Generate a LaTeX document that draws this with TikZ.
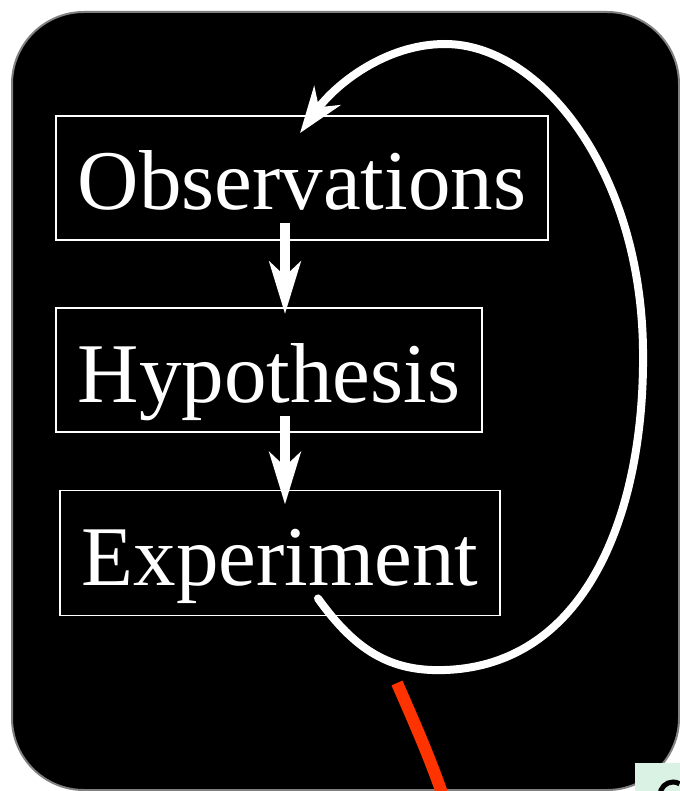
\documentclass[tikz,border=0pt]{standalone}
\usepackage{fontspec}
\setmainfont{Liberation Serif}
\usetikzlibrary{arrows.meta,calc}
\definecolor{redline}{RGB}{255,51,0}
\definecolor{mint}{RGB}{217,242,227}
\begin{document}
\begin{tikzpicture}[x=1pt,y=-1pt,
  stepbox/.style={draw=white, line width=1.8pt, text=white, inner sep=0pt,
    font=\fontsize{85}{90}\selectfont, text height=64pt, text depth=0pt},
  flow/.style={white, line width=10pt,
    -{Stealth[length=52pt,width=31pt,inset=14pt]}},
  loopback/.style={white, line width=8pt, line cap=round,
    -{Stealth[length=46pt,width=32pt,inset=14pt]}}]
\useasboundingbox (0,0) rectangle (679,791);
\fill[white] (0,0) rectangle (679,791);
% background panel
\draw[fill=black, draw=gray, line width=2pt, rounded corners=72pt] (12,12) rectangle (679,790);
% boxes
\node[stepbox, minimum width=492pt, minimum height=124pt] (obs) at (302,178) {Observations};
\node[stepbox, minimum width=426pt, minimum height=124pt] (hyp) at (269,370) {Hypothesis};
\node[stepbox, minimum width=440pt, minimum height=125pt] (exp) at (280,553) {Experiment};
% straight arrows
\draw[flow] ($(obs.south)+(-17,-18)$) -- ($(hyp.north)+(16,7)$);
\draw[flow] ($(hyp.south)+(16,-17)$) -- ($(exp.north)+(5,15)$);
% loop back
\coordinate (ls) at ($(exp.south)+(38,-18)$);
\coordinate (le) at ($(obs.north)+(-2,18)$);
\draw[loopback] (ls) .. controls (355,650) and (390,672) .. (445,670)
  .. controls (588,665) and (645,510) .. (643,350)
  .. controls (641,170) and (540,44) .. (445,44)
  .. controls (385,44) and (335,85) .. (le);
% red stroke
\draw[redline, line width=12pt] (397,683) .. controls (414,722) and (430,758) .. (443,796);
% corner patch
\fill[mint] (635,763) rectangle (685,795);
\draw[black, line width=5pt] (660,795) arc[start angle=180, end angle=60, radius=13pt];
\end{tikzpicture}
\end{document}
